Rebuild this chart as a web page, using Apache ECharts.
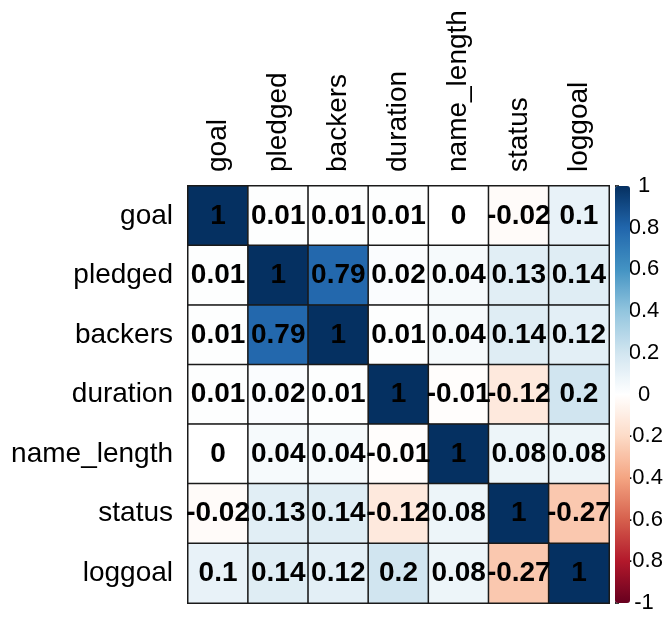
<!DOCTYPE html>
<html><head><meta charset="utf-8">
<script src="https://cdn.jsdelivr.net/npm/echarts@6/dist/echarts.min.js"></script>
<style>html,body{margin:0;padding:0;background:#fff}#c{width:667px;height:619px}</style>
</head><body><div id="c"></div>
<script>
var vars = ['goal','pledged','backers','duration','name_length','status','loggoal'];
var row_goal = [1, 0.01, 0.01, 0.01, 0, -0.02, 0.1];
var row_pledged = [0.01, 1, 0.79, 0.02, 0.04, 0.13, 0.14];
var row_backers = [0.01, 0.79, 1, 0.01, 0.04, 0.14, 0.12];
var row_duration = [0.01, 0.02, 0.01, 1, -0.01, -0.12, 0.2];
var row_name_length = [0, 0.04, 0.04, -0.01, 1, 0.08, 0.08];
var row_status = [-0.02, 0.13, 0.14, -0.12, 0.08, 1, -0.27];
var row_loggoal = [0.1, 0.14, 0.12, 0.2, 0.08, -0.27, 1];
var rows = [row_goal,row_pledged,row_backers,row_duration,row_name_length,row_status,row_loggoal];
var palette = ["#67001F","#B2182B","#D6604D","#F4A582","#FDDBC7","#FFFFFF","#D1E5F0","#92C5DE","#4393C3","#2166AC","#053061"];

var data = [];
rows.forEach(function(r, i){ r.forEach(function(v, j){ data.push([j, i, v]); }); });

var FONT = '"Liberation Sans", Arial, sans-serif';
var chart = echarts.init(document.getElementById('c'));
chart.setOption({
  animation: false,
  grid: [
    {left: 188, top: 186, width: 421, height: 417, outerBoundsMode: 'none', containLabel: false},
    {left: 615, top: 186, width: 15, height: 417, outerBoundsMode: 'none', containLabel: false}
  ],
  xAxis: [
    {type: 'category', data: vars, position: 'top', gridIndex: 0,
     axisLine: {show: false}, axisTick: {show: false}, splitLine: {show: false},
     axisLabel: {rotate: -90, margin: 14, fontSize: 28, color: '#000', fontFamily: FONT, interval: 0}},
    {type: 'value', gridIndex: 1, show: false, min: 0, max: 1}
  ],
  yAxis: [
    {type: 'category', data: vars, inverse: true, gridIndex: 0,
     axisLine: {show: false}, axisTick: {show: false}, splitLine: {show: false},
     axisLabel: {margin: 15, fontSize: 28, color: '#000', fontFamily: FONT, interval: 0}},
    {type: 'value', gridIndex: 1, position: 'right', min: -1, max: 1, interval: 0.2,
     axisLine: {show: true, lineStyle: {color: '#666', width: 1}}, splitLine: {show: false},
     axisTick: {show: true, length: 4, lineStyle: {color: '#000', width: 1.5}},
     axisLabel: {margin: 14, align: 'center', fontSize: 22, color: '#000', fontFamily: FONT, hideOverlap: false,
       formatter: function(v){ return String(Math.round(v*10)/10); }}}
  ],
  visualMap: {
    type: 'continuous', min: -1, max: 1, seriesIndex: 0,
    orient: 'vertical', left: 615, top: 186, itemWidth: 15, itemHeight: 417,
    padding: 0, text: null, showLabel: false, calculable: false,
    inRange: {color: palette}
  },
  series: [
    {type: 'heatmap', data: data, xAxisIndex: 0, yAxisIndex: 0,
     itemStyle: {borderColor: '#1a1a1a', borderWidth: 1.5},
     label: {show: true, fontSize: 28, fontWeight: 'bold', color: '#000', fontFamily: FONT,
       formatter: function(p){ return String(p.value[2]); }},
     emphasis: {disabled: true}},
    {type: 'scatter', data: [], xAxisIndex: 1, yAxisIndex: 1}
  ]
});
</script></body></html>
